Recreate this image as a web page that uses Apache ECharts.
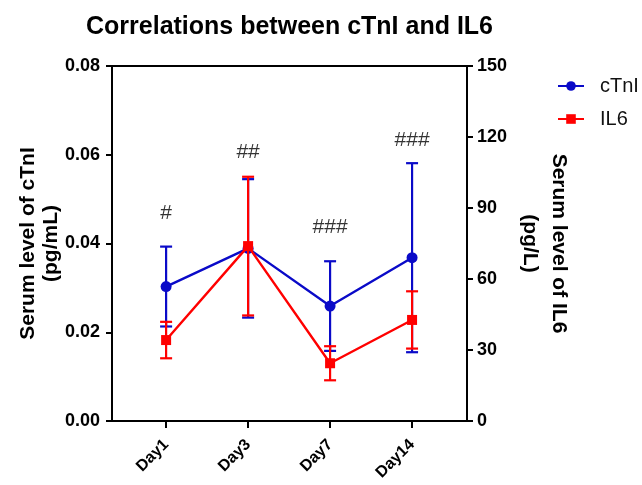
<!DOCTYPE html>
<html>
<head>
<meta charset="utf-8">
<script src="https://cdn.jsdelivr.net/npm/echarts@6/dist/echarts.min.js"></script>
<style>html,body{margin:0;padding:0;background:#fff;}#c{width:642px;height:485px;}</style>
</head>
<body>
<div id="c"></div>
<script>
var categories = ['Day1', 'Day3', 'Day7', 'Day14'];
var ctniMean = [0.0303, 0.0389, 0.0259, 0.0368];
var ctniErr = [0.0090, 0.0156, 0.0101, 0.0213];
var il6Mean = [34.2, 73.9, 24.4, 42.7];
var il6Err = [7.7, 29.3, 7.2, 12.1];
var sigLabels = ['#', '##', '###', '###'];
var sigHeight = [0.0469, 0.0606, 0.0437, 0.0633];
var leftTicks = [0, 0.02, 0.04, 0.06, 0.08];
var rightTicks = [0, 30, 60, 90, 120, 150];

var FONT = 'Liberation Sans, Arial, Helvetica, sans-serif';
var BLUE = '#0a0ac8';
var RED = '#ff0000';

function errData(mean, err) {
  return mean.map(function (m, i) { return [i, m - err[i], m + err[i]]; });
}
function errRender(color) {
  return function (params, api) {
    var x = api.value(0);
    var lo = api.coord([x, api.value(1)]);
    var hi = api.coord([x, api.value(2)]);
    var w = 6;
    var st = { stroke: color, lineWidth: 2.2 };
    return {
      type: 'group',
      children: [
        { type: 'line', shape: { x1: lo[0], y1: lo[1], x2: hi[0], y2: hi[1] }, style: st },
        { type: 'line', shape: { x1: lo[0] - w, y1: lo[1], x2: lo[0] + w, y2: lo[1] }, style: st },
        { type: 'line', shape: { x1: hi[0] - w, y1: hi[1], x2: hi[0] + w, y2: hi[1] }, style: st }
      ]
    };
  };
}

var axisLineStyle = { color: '#000', width: 2 };
var chart = echarts.init(document.getElementById('c'));
chart.setOption({
  animation: false,
  backgroundColor: '#fff',
  textStyle: { fontFamily: FONT },
  title: {
    text: 'Correlations between cTnI and IL6',
    left: 81, top: 10,
    textStyle: { fontFamily: FONT, fontSize: 25, fontWeight: 'bold', color: '#000' }
  },
  legend: {
    left: 552, top: 71, orient: 'vertical', itemGap: 13,
    itemWidth: 26, itemHeight: 12,
    textStyle: { fontFamily: FONT, fontSize: 20, color: '#111', padding: [0, 0, 0, 11] },
    data: ['cTnI', 'IL6']
  },
  grid: { left: 112, right: 175, top: 66, bottom: 64, outerBoundsMode: 'none', containLabel: false },
  xAxis: [{
    type: 'value', min: -0.66, max: 3.67,
    splitLine: { show: false },
    axisLine: { show: true, onZero: false, lineStyle: axisLineStyle },
    axisTick: { show: true, length: 7, lineStyle: { color: '#000', width: 2 }, customValues: [0, 1, 2, 3] },
    axisLabel: {
      customValues: [0, 1, 2, 3], rotate: 45, margin: 21,
      fontFamily: FONT, fontSize: 16, fontWeight: 'bold', color: '#000',
      formatter: function (v) { return categories[Math.round(v)]; }
    }
  }, {
    type: 'value', min: -0.66, max: 3.67, position: 'top',
    splitLine: { show: false },
    axisLine: { show: true, onZero: false, lineStyle: axisLineStyle },
    axisTick: { show: false }, axisLabel: { show: false }
  }],
  yAxis: [{
    type: 'value', min: 0, max: 0.08, interval: 0.02, position: 'left',
    name: 'Serum level of cTnI\n(pg/mL)', nameLocation: 'middle', nameGap: 49, nameMoveOverlap: false,
    nameTextStyle: { fontFamily: FONT, fontSize: 21, fontWeight: 'bold', color: '#000', lineHeight: 23 },
    splitLine: { show: false },
    axisLine: { show: true, onZero: false, lineStyle: axisLineStyle },
    axisTick: { show: true, length: 6, lineStyle: { color: '#000', width: 2 } },
    axisLabel: {
      margin: 12, fontFamily: FONT, fontSize: 18, fontWeight: 'bold', color: '#000',
      customValues: leftTicks,
      formatter: function (v) { return v.toFixed(2); }
    }
  }, {
    type: 'value', min: 0, max: 150, interval: 30, position: 'right',
    name: 'Serum level of IL6\n(pg/L)', nameLocation: 'middle', nameGap: 48, nameRotate: -90, nameMoveOverlap: false,
    nameTextStyle: { fontFamily: FONT, fontSize: 21, fontWeight: 'bold', color: '#000', lineHeight: 29 },
    splitLine: { show: false },
    axisLine: { show: true, onZero: false, lineStyle: axisLineStyle },
    axisTick: { show: true, length: 6, lineStyle: { color: '#000', width: 2 } },
    axisLabel: {
      margin: 10, fontFamily: FONT, fontSize: 18, fontWeight: 'bold', color: '#000',
      customValues: rightTicks
    }
  }],
  series: [{
    name: 'cTnI-err', type: 'custom', xAxisIndex: 0, yAxisIndex: 0, z: 2,
    renderItem: errRender(BLUE), data: errData(ctniMean, ctniErr), silent: true
  }, {
    name: 'cTnI', type: 'line', xAxisIndex: 0, yAxisIndex: 0, z: 3,
    data: ctniMean.map(function (v, i) { return [i, v]; }),
    symbol: 'circle', symbolSize: 11,
    lineStyle: { color: BLUE, width: 2.4 }, itemStyle: { color: BLUE }
  }, {
    name: 'IL6-err', type: 'custom', xAxisIndex: 0, yAxisIndex: 1, z: 4,
    renderItem: errRender(RED), data: errData(il6Mean, il6Err), silent: true
  }, {
    name: 'IL6', type: 'line', xAxisIndex: 0, yAxisIndex: 1, z: 5,
    data: il6Mean.map(function (v, i) { return [i, v]; }),
    symbol: 'rect', symbolSize: 10,
    lineStyle: { color: RED, width: 2.4 }, itemStyle: { color: RED }
  }, {
    name: 'sig', type: 'scatter', xAxisIndex: 0, yAxisIndex: 0, z: 6,
    data: sigHeight.map(function (v, i) { return [i, v]; }),
    symbolSize: 1, itemStyle: { color: 'rgba(0,0,0,0)' },
    label: {
      show: true, position: 'inside',
      fontFamily: FONT, fontSize: 21, color: '#000',
      formatter: function (p) { return sigLabels[p.dataIndex]; }
    }
  }]
});
</script>
</body>
</html>
